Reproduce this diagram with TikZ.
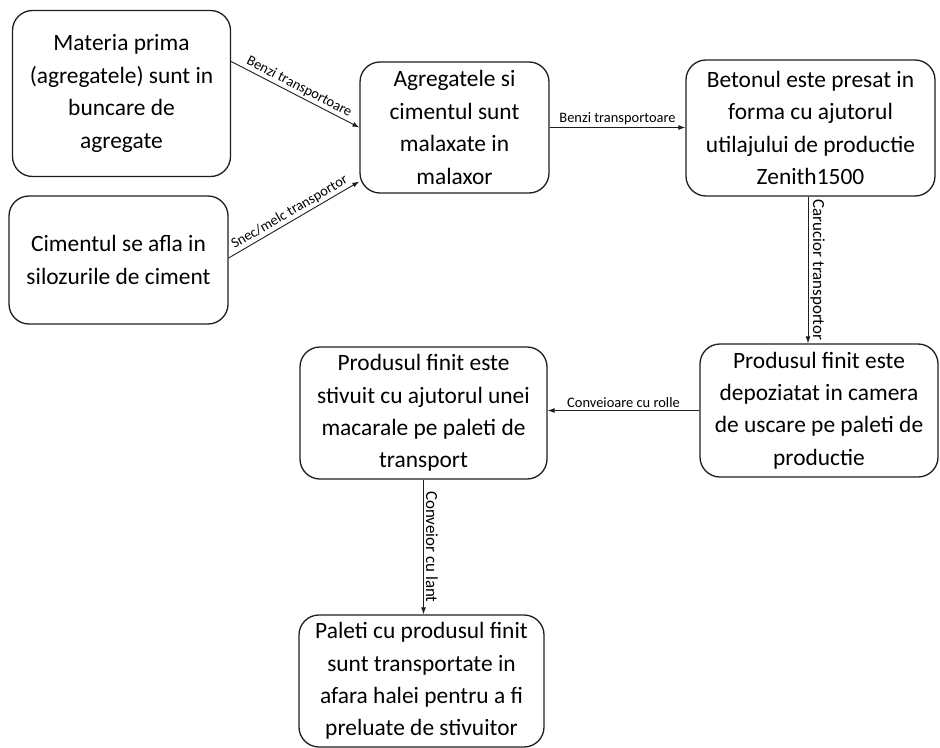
\documentclass[tikz,border=0pt]{standalone}
\usepackage{fontspec}
\setmainfont{Carlito}
\usetikzlibrary{arrows.meta}
\definecolor{linegray}{RGB}{30, 30, 30}

\begin{document}
\begin{tikzpicture}[x=1bp,y=-1bp,
    stagebox/.style={draw=linegray,line width=1.3bp,rounded corners=20bp,align=center,
      inner sep=0pt,font=\fontsize{23.5}{32.5}\selectfont},
    flow/.style={draw=linegray,line width=0.9bp,-{Latex[length=7bp,width=5bp]}},
    flowlabel/.style={font=\fontsize{14.5}{16}\selectfont,inner sep=2bp},
    downlabel/.style={font=\fontsize{17}{18}\selectfont,inner sep=2bp}]
    \useasboundingbox (0,0) rectangle (940,748);

    % boxes
    \node[stagebox,minimum width=218bp,minimum height=166bp] (materia) at (121.5,93.5)
      {Materia prima\\(agregatele) sunt in\\buncare de\\agregate};
    \node[stagebox,minimum width=219bp,minimum height=128bp] (ciment) at (118.5,260)
      {Cimentul se afla in\\silozurile de ciment};
    \node[stagebox,minimum width=189bp,minimum height=131bp] (malaxor) at (454.5,127.5)
      {Agregatele si\\cimentul sunt\\malaxate in\\malaxor};
    \node[stagebox,minimum width=249bp,minimum height=136bp] (presa) at (810.5,128)
      {Betonul este presat in\\forma cu ajutorul\\utilajului de productie\\Zenith1500};
    \node[stagebox,minimum width=238bp,minimum height=133bp] (uscare) at (819,410.5)
      {Produsul finit este\\depoziatat in camera\\de uscare pe paleti de\\productie};
    \node[stagebox,minimum width=247bp,minimum height=132bp] (stivuire) at (423.5,413)
      {Produsul finit este\\stivuit cu ajutorul unei\\macarale pe paleti de\\transport};
    \node[stagebox,minimum width=245bp,minimum height=132bp] (paleti) at (421.5,681)
      {Paleti cu produsul finit\\sunt transportate in\\afara halei pentru a fi\\preluate de stivuitor};

    % connectors
    \draw[flow] ([yshift=32bp]materia.east) -- node[flowlabel,midway,sloped,above] {Benzi transportoare} (malaxor.west);
    \draw[flow] ([yshift=2bp]ciment.east) -- node[flowlabel,midway,sloped,above] {Snec/melc transportor} ([yshift=-54bp]malaxor.west);
    \draw[flow] (malaxor.east) -- node[flowlabel,midway,above] {Benzi transportoare} (presa.west |- malaxor.east);
    \draw[flow] ([xshift=-2.5bp]presa.south) -- node[downlabel,midway,sloped,above] {Carucior transportor} ([xshift=-2.5bp]presa.south |- uscare.north);
    \draw[flow] (uscare.west) -- node[flowlabel,midway,above] {Conveioare cu rolle} (stivuire.east |- uscare.west);
    \draw[flow] (stivuire.south) -- node[downlabel,midway,sloped,above] {Conveior cu lant} (stivuire.south |- paleti.north);
\end{tikzpicture}
\end{document}
